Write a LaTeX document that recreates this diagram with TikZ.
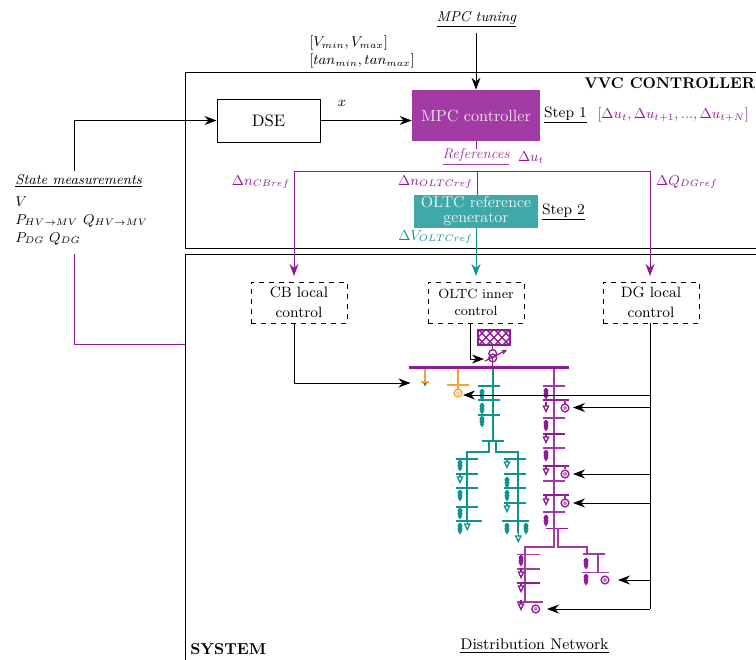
\documentclass[tikz,border=0pt]{standalone}
\usetikzlibrary{arrows.meta,calc}
\definecolor{pur}{HTML}{A23BA4}
\definecolor{dpur}{HTML}{8E1A96}
\definecolor{tealb}{HTML}{3FA8A8}
\definecolor{dteal}{HTML}{0F9292}
\definecolor{oran}{HTML}{F9A233}
\newcommand{\ldd}[3]{% double filled load
  \draw[#1,line width=0.7pt] (#2,#3-5.5) -- (#2,#3+5);
  \fill[#1] (#2,#3-2.2) circle (2.5);
  \fill[#1] (#2,#3+0.8) circle (2.5);
  \fill[#1] (#2-2.4,#3+2.8) -- (#2+2.4,#3+2.8) -- (#2,#3+6.5) -- cycle;}
\newcommand{\ldo}[3]{% open load
  \draw[#1,line width=0.7pt] (#2,#3-6) -- (#2,#3-2);
  \draw[#1,line width=0.8pt,fill=white] (#2-2.6,#3-2) -- (#2+2.6,#3-2) -- (#2,#3+3.5) -- cycle;}
\newcommand{\gnr}[3]{% generator
  \draw[#1,line width=0.8pt,fill=white] (#2,#3) circle (3.9);
  \fill[#1,opacity=.55] (#2,#3) circle (2);}
\newcommand{\hbr}[4]{\draw[#1,line width=0.95pt] (#2,#4) -- (#3,#4);}
\tikzset{
  x=0.6pt,y=-0.6pt,
  line width=0.5pt,
  >={Stealth[length=7.2pt,width=5.4pt]},
  plainline/.style={black,line width=0.55pt},
  ctl/.style={draw,dashed,line width=0.55pt,minimum width=57.6pt,minimum height=24.6pt,inner sep=0pt,align=center,font=\small},
  lbl/.style={inner sep=0pt},
  ml/.style={lbl,font=\small,scale=0.95},
  purl/.style={dpur,line width=0.6pt},
  feeder/.style={line width=1pt},
}
\begin{document}
\begin{tikzpicture}
\useasboundingbox (0,0) rectangle (756,659);
\clip (0,0) rectangle (756,659);
% frames
\draw[plainline] (800,72) -- (185,72) -- (185,248) -- (800,248);
\draw[plainline] (800,254) -- (185,254) -- (185,700);
\node[lbl,anchor=base east,font=\bfseries,scale=0.93] (vvc) at (755.5,88) {VVC CONTROLLER};
\node[lbl,anchor=base west,font=\bfseries,scale=0.95] (sys) at (190,654) {SYSTEM};
% blocks
\node[draw,line width=0.6pt,minimum width=61.8pt,minimum height=25.8pt,inner sep=0pt] (dse) at (268.5,120.5) {DSE};
\node[fill=pur,minimum width=76.8pt,minimum height=30.6pt,inner sep=0pt] (mpc) at (476,115.5) {\textcolor{white!85!pur}{\scalebox{0.97}{MPC controller}}};
\node[fill=tealb,text=white!88!tealb,minimum width=74.4pt,minimum height=19.8pt,inner sep=0pt,align=center,font=\fontsize{9.5}{9}\selectfont] (ref) at (476,211.5) {OLTC reference\\generator};
\node[ctl] (cb) at (299,302.5) {CB local\\[1pt]control};
\node[ctl,font=\footnotesize] (oltc) at (476,302.5) {OLTC inner\\[1pt]control};
\node[ctl] (dg) at (651,302.5) {DG local\\[1pt]control};
% top labels
\node[ml,font=\small\itshape] (tun) at (476.5,19.5) {\underline{MPC tuning}};
\coordinate (tunb) at (476,33);
\draw[->,plainline] (tunb) -- (tunb |- mpc.north);
\node[ml,anchor=west] (lim1) at (309,43) {$[V_{min},V_{max}]$};
\node[ml,anchor=west] (lim2) at (309,61) {$[tan_{min},tan_{max}]$};
\node[ml] (xl) at (342,103) {$x$};
\coordinate (dsein) at (320,120.5);
\draw[->,plainline] (dse.east) -- (dse.east -| mpc.west);
% state measurements
\node[ml,anchor=base west,font=\small\itshape] (sm) at (15,184) {\underline{State measurements}};
\node[ml,anchor=base west] (sm1) at (15,206) {$V$};
\node[ml,anchor=base west] (sm2) at (15,224) {$P_{HV\rightarrow MV}\ Q_{HV\rightarrow MV}$};
\node[ml,anchor=base west] (sm3) at (15,242) {$P_{DG}\ Q_{DG}$};
\coordinate (smt) at (74,171);
\coordinate (smb) at (74,254);
\coordinate (sysl) at (185,344);
\draw[->,plainline] (smt) |- (dse.west);
\draw[dpur,line width=0.6pt] (smb) |- (sysl);
% references
\node[ml,text=pur,font=\small\itshape] (refs) at (476,157) {\underline{References}};
\node[ml,text=dpur] (du) at (531,157.5) {$\Delta u_t$};
\coordinate (bus) at (477,171);
\coordinate (cbin) at (294,276);
\coordinate (dgin) at (650,276);
\coordinate (oltcin) at (476,276);
\draw[purl] (mpc.south -| refs) -- (refs.north);
\draw[purl] (bus) -- (bus |- ref.north);
\draw[purl,->] (bus) -| (cbin);
\draw[purl,->] (bus) -| (dgin);
\draw[dteal,line width=0.6pt,->] (ref.south) -- (oltcin);
\node[ml,text=dpur] (l1) at (261,182) {$\Delta n_{CBref}$};
\node[ml,text=dpur] (l2) at (435.5,182) {$\Delta n_{OLTCref}$};
\node[ml,text=dpur] (l3) at (687,182) {$\Delta Q_{DGref}$};
\node[ml,text=dteal] (l4) at (435.5,237) {$\Delta V_{OLTCref}$};
\node[lbl,font=\small] (st1) at (565.5,115) {\underline{Step 1}};
\node[lbl,font=\small] (st2) at (563.5,212) {\underline{Step 2}};
\node[ml,text=dpur,anchor=west] (seq) at (597,115) {$[\Delta u_t,\Delta u_{t+1},...,\Delta u_{t+N}]$};
\node[lbl,font=\small,scale=1.03] (dn) at (534.5,646) {\underline{Distribution Network}};
% substation
\begin{scope}
\clip (478,330) rectangle (510,345);
\foreach \k in {-2,...,6}{
  \draw[dpur,line width=0.85pt] (470+\k*8,346) -- (486+\k*8,329);
  \draw[dpur,line width=0.85pt] (470+\k*8,329) -- (486+\k*8,346);}
\end{scope}
\draw[dpur,line width=1.1pt] (478,330) rectangle (510,345);
\draw[dpur,line width=0.8pt] (492.7,345) -- (492.7,367);
\draw[dpur,line width=0.8pt,fill=white] (492.7,353.5) circle (3.9);
\draw[dpur,line width=0.8pt] (492.7,358) circle (3.9);
\draw[dpur,line width=0.7pt,-{Stealth[length=3.5pt,width=3pt]}] (485,361) -- (507,350);
% teal feeder
\draw[dteal,feeder] (492.7,367) -- (492.7,441);
\hbr{dteal}{478}{500}{386}\hbr{dteal}{478}{500}{400}\hbr{dteal}{478}{500}{415}
\hbr{dteal}{482}{504}{441}
\ldd{dteal}{482}{394}\ldd{dteal}{482}{408}\ldd{dteal}{482}{421}
\draw[dteal,feeder] (489,441) -- (489,451.7) -- (467.3,451.7) -- (467.3,521);
\draw[dteal,feeder] (496,441) -- (496,451.7) -- (518.3,451.7) -- (518.3,533);
\hbr{dteal}{456}{478}{459}\hbr{dteal}{456}{478}{474}\hbr{dteal}{456}{478}{488}\hbr{dteal}{456}{478}{507}\hbr{dteal}{456}{482}{521}
\hbr{dteal}{504}{526}{459}\hbr{dteal}{504}{526}{474}\hbr{dteal}{504}{526}{488}\hbr{dteal}{504}{526}{503}\hbr{dteal}{502}{529}{521}
\ldd{dteal}{460}{465}\ldo{dteal}{460}{479}\ldd{dteal}{460}{495}\ldd{dteal}{460}{513}\ldd{dteal}{460}{528}\ldo{dteal}{467.3}{526}
\ldo{dteal}{507}{464}\ldd{dteal}{507}{482}\ldd{dteal}{507}{495}\ldo{dteal}{507}{508}\ldd{dteal}{507}{528}\ldd{dteal}{526}{528}\ldo{dteal}{518.3}{538}
% purple feeder
\draw[pur,feeder] (554,367) -- (554,528.6);
\hbr{pur}{543}{565}{386}\hbr{dpur}{543}{569}{400}\hbr{pur}{543}{565}{418}\hbr{dpur}{543}{565}{433.7}\hbr{pur}{543}{565}{448}
\hbr{dpur}{543}{569}{466}\hbr{pur}{543}{565}{481}\hbr{dpur}{543}{569}{495}\hbr{pur}{543}{565}{512}\hbr{dpur}{546}{568}{528.6}
\ldd{dpur}{546}{393}\ldo{dpur}{546}{408}\ldd{dpur}{546}{425}\ldo{dpur}{546}{439}\ldd{dpur}{546}{455}
\ldo{dpur}{546}{471}\ldo{dpur}{546}{501}\ldd{dpur}{546}{520}
\draw[pur,feeder] (565,400) -- (565,404);
\draw[pur,feeder] (565,466) -- (565,469);
\draw[pur,feeder] (565,495) -- (565,499);
\gnr{dpur}{565}{408}\gnr{dpur}{565}{474}\gnr{dpur}{565}{503}
% lower branches
\draw[pur,feeder] (554,528) -- (554,546.7) -- (524.7,546.7) -- (524.7,601.7);
\draw[pur,feeder] (558,528) -- (558,546.7) -- (587,546.7) -- (587,554) ;
\hbr{pur}{517}{539.5}{554.3}\hbr{pur}{517}{539.5}{568.7}\hbr{dpur}{517}{539.5}{583}\hbr{pur}{517}{543}{601.7}
\ldd{dpur}{521}{560}\ldo{dpur}{521}{574}\ldo{dpur}{521}{588}\ldo{dpur}{521}{606}
\gnr{dpur}{535.7}{609}
\hbr{pur}{583}{605}{554}\hbr{pur}{582}{609}{572.6}
\draw[pur,feeder] (598,554) -- (598,572.6);
\ldd{dpur}{586}{563}\ldd{dpur}{586}{579}
\gnr{dpur}{605}{580}
% main busbar and orange stubs
\draw[oran,line width=1pt] (425,367) -- (425,382);
\draw[oran,line width=1pt] (421,382) -- (429,382);
\fill[dteal] (423,383) -- (427,383) -- (425,386.5) -- cycle;
\draw[oran,line width=1pt] (458,367) -- (458,389);
\draw[oran,line width=1pt] (447,385) -- (469,385);
\gnr{oran}{458}{393}
\draw[dpur,line width=1.3pt] (409,367.5) -- (569,367.5);
% control connectors
\coordinate (cbt) at (294,323);
\coordinate (cbe) at (410.5,383);
\draw[->,plainline] (cbt) |- (cbe);
\coordinate (ot) at (470.5,323);
\coordinate (oe) at (484,359);
\draw[->,plainline] (ot) |- (oe);
\coordinate (dgt) at (650,323);
\coordinate (g0) at (463,395);
\coordinate (g1) at (573,407.5);
\coordinate (g2) at (573,474);
\coordinate (g3) at (573,503);
\coordinate (g4) at (618,580);
\coordinate (g5) at (547,609);
\draw[plainline] (dgt) -- (dgt |- g5);
\foreach \g in {g0,g1,g2,g3,g4,g5}{\draw[->,plainline] (dgt |- \g) -- (\g);}
\end{tikzpicture}
\end{document}
